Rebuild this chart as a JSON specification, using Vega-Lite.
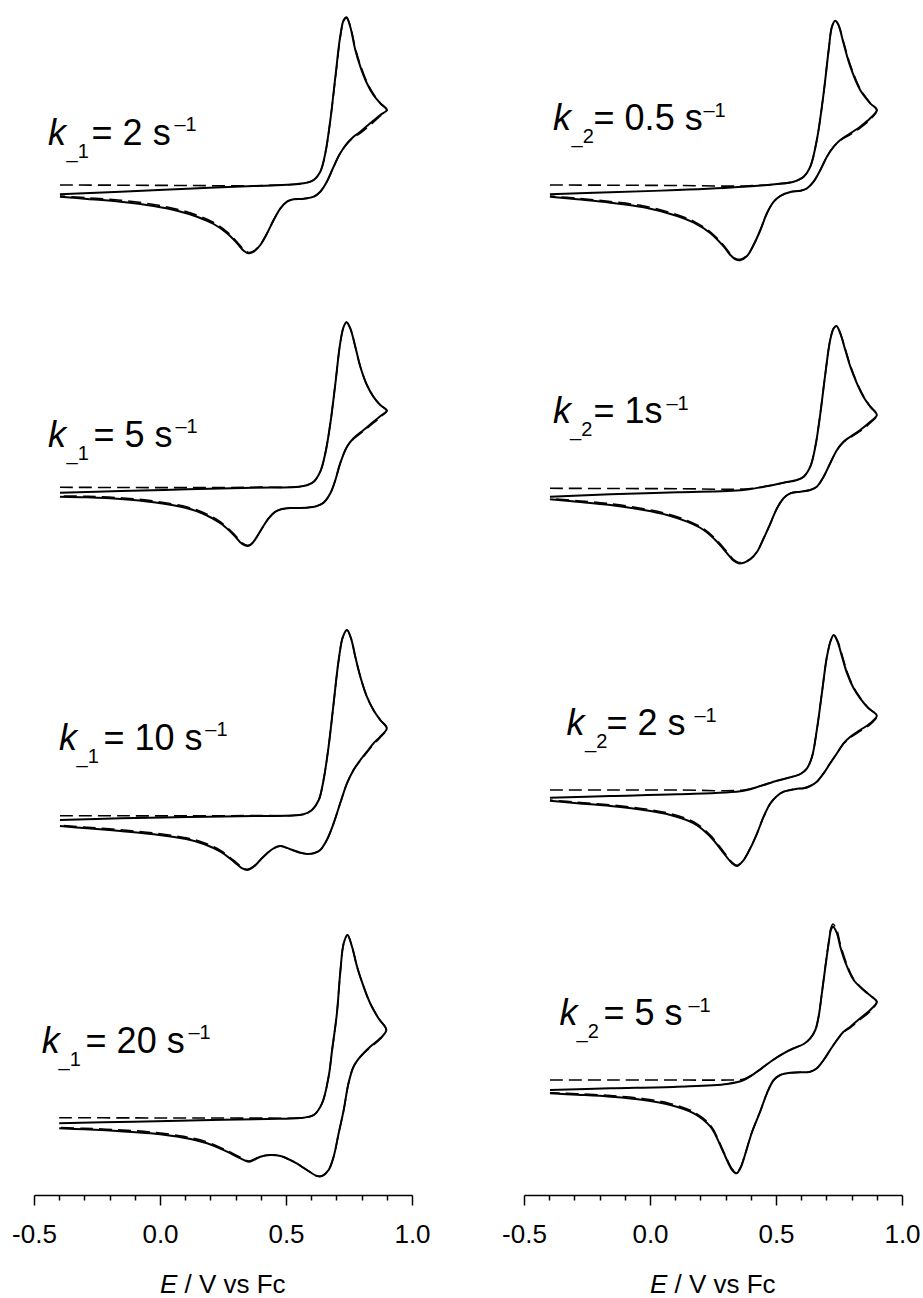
{
"$schema": "https://vega.github.io/schema/vega-lite/v6.json",
"padding": {"left": 11, "top": 0, "right": 5, "bottom": 0},
"background": "white",
"spacing": 112,
"bounds": "flush",
"config": {"view": {"stroke": null}, "font": "Liberation Sans"},
"datasets": {
"cv": [
{"p":"L1","i":0,"E":-0.397,"s":10.007,"d":10.1},{"p":"L1","i":1,"E":-0.157,"s":10.033,"d":10.098},{"p":"L1","i":2,"E":0.108,"s":10.063,"d":10.095},{"p":"L1","i":3,"E":0.372,"s":10.09,"d":10.093},{"p":"L1","i":4,"E":0.57,"s":10.117,"d":10.117},{"p":"L1","i":5,"E":0.61,"s":10.15,"d":10.15},{"p":"L1","i":6,"E":0.636,"s":10.233,"d":10.233},{"p":"L1","i":7,"E":0.656,"s":10.417,"d":10.417},{"p":"L1","i":8,"E":0.676,"s":10.75,"d":10.75},{"p":"L1","i":9,"E":0.696,"s":11.183,"d":11.17},{"p":"L1","i":10,"E":0.715,"s":11.583,"d":11.57},{"p":"L1","i":11,"E":0.729,"s":11.75,"d":11.74},{"p":"L1","i":12,"E":0.74,"s":11.777,"d":11.77},{"p":"L1","i":13,"E":0.755,"s":11.683,"d":11.69},{"p":"L1","i":14,"E":0.775,"s":11.45,"d":11.47},{"p":"L1","i":15,"E":0.795,"s":11.283,"d":11.3},{"p":"L1","i":16,"E":0.821,"s":11.117,"d":11.13},{"p":"L1","i":17,"E":0.847,"s":11.0,"d":11.01},{"p":"L1","i":18,"E":0.874,"s":10.917,"d":10.92},{"p":"L1","i":19,"E":0.9,"s":10.85,"d":10.85},{"p":"L1","i":20,"E":0.874,"s":10.8,"d":10.79},{"p":"L1","i":21,"E":0.834,"s":10.717,"d":10.7},{"p":"L1","i":22,"E":0.795,"s":10.633,"d":10.62},{"p":"L1","i":23,"E":0.768,"s":10.583,"d":10.575},{"p":"L1","i":24,"E":0.742,"s":10.517,"d":10.51},{"p":"L1","i":25,"E":0.715,"s":10.417,"d":10.417},{"p":"L1","i":26,"E":0.689,"s":10.283,"d":10.283},{"p":"L1","i":27,"E":0.662,"s":10.133,"d":10.133},{"p":"L1","i":28,"E":0.636,"s":10.033,"d":10.033},{"p":"L1","i":29,"E":0.61,"s":9.983,"d":9.983},{"p":"L1","i":30,"E":0.57,"s":9.963,"d":9.963},{"p":"L1","i":31,"E":0.53,"s":9.957,"d":9.957},{"p":"L1","i":32,"E":0.504,"s":9.933,"d":9.933},{"p":"L1","i":33,"E":0.478,"s":9.867,"d":9.867},{"p":"L1","i":34,"E":0.451,"s":9.75,"d":9.75},{"p":"L1","i":35,"E":0.425,"s":9.617,"d":9.617},{"p":"L1","i":36,"E":0.398,"s":9.5,"d":9.505},{"p":"L1","i":37,"E":0.372,"s":9.433,"d":9.44},{"p":"L1","i":38,"E":0.352,"s":9.417,"d":9.425},{"p":"L1","i":39,"E":0.332,"s":9.443,"d":9.455},{"p":"L1","i":40,"E":0.306,"s":9.517,"d":9.53},{"p":"L1","i":41,"E":0.266,"s":9.617,"d":9.632},{"p":"L1","i":42,"E":0.213,"s":9.71,"d":9.725},{"p":"L1","i":43,"E":0.147,"s":9.783,"d":9.798},{"p":"L1","i":44,"E":0.068,"s":9.843,"d":9.858},{"p":"L1","i":45,"E":-0.025,"s":9.89,"d":9.905},{"p":"L1","i":46,"E":-0.157,"s":9.933,"d":9.948},{"p":"L1","i":47,"E":-0.289,"s":9.96,"d":9.972},{"p":"L1","i":48,"E":-0.397,"s":9.983,"d":9.99},
{"p":"L2","i":0,"E":-0.397,"s":7.023,"d":7.077},{"p":"L2","i":1,"E":-0.157,"s":7.04,"d":7.075},{"p":"L2","i":2,"E":0.108,"s":7.057,"d":7.074},{"p":"L2","i":3,"E":0.372,"s":7.073,"d":7.078},{"p":"L2","i":4,"E":0.57,"s":7.09,"d":7.09},{"p":"L2","i":5,"E":0.61,"s":7.133,"d":7.133},{"p":"L2","i":6,"E":0.636,"s":7.233,"d":7.233},{"p":"L2","i":7,"E":0.656,"s":7.417,"d":7.417},{"p":"L2","i":8,"E":0.676,"s":7.717,"d":7.717},{"p":"L2","i":9,"E":0.696,"s":8.117,"d":8.117},{"p":"L2","i":10,"E":0.715,"s":8.517,"d":8.517},{"p":"L2","i":11,"E":0.729,"s":8.683,"d":8.683},{"p":"L2","i":12,"E":0.74,"s":8.727,"d":8.727},{"p":"L2","i":13,"E":0.755,"s":8.667,"d":8.667},{"p":"L2","i":14,"E":0.775,"s":8.483,"d":8.483},{"p":"L2","i":15,"E":0.795,"s":8.283,"d":8.283},{"p":"L2","i":16,"E":0.821,"s":8.1,"d":8.1},{"p":"L2","i":17,"E":0.847,"s":7.983,"d":7.983},{"p":"L2","i":18,"E":0.874,"s":7.9,"d":7.9},{"p":"L2","i":19,"E":0.9,"s":7.843,"d":7.843},{"p":"L2","i":20,"E":0.88,"s":7.8,"d":7.79},{"p":"L2","i":21,"E":0.847,"s":7.733,"d":7.72},{"p":"L2","i":22,"E":0.808,"s":7.65,"d":7.64},{"p":"L2","i":23,"E":0.768,"s":7.567,"d":7.56},{"p":"L2","i":24,"E":0.742,"s":7.483,"d":7.483},{"p":"L2","i":25,"E":0.715,"s":7.317,"d":7.317},{"p":"L2","i":26,"E":0.696,"s":7.15,"d":7.15},{"p":"L2","i":27,"E":0.676,"s":7.017,"d":7.017},{"p":"L2","i":28,"E":0.649,"s":6.923,"d":6.923},{"p":"L2","i":29,"E":0.623,"s":6.89,"d":6.89},{"p":"L2","i":30,"E":0.597,"s":6.877,"d":6.877},{"p":"L2","i":31,"E":0.557,"s":6.87,"d":6.87},{"p":"L2","i":32,"E":0.517,"s":6.87,"d":6.87},{"p":"L2","i":33,"E":0.484,"s":6.86,"d":6.86},{"p":"L2","i":34,"E":0.458,"s":6.833,"d":6.833},{"p":"L2","i":35,"E":0.431,"s":6.767,"d":6.767},{"p":"L2","i":36,"E":0.405,"s":6.667,"d":6.667},{"p":"L2","i":37,"E":0.378,"s":6.557,"d":6.56},{"p":"L2","i":38,"E":0.359,"s":6.5,"d":6.505},{"p":"L2","i":39,"E":0.346,"s":6.49,"d":6.497},{"p":"L2","i":40,"E":0.326,"s":6.51,"d":6.52},{"p":"L2","i":41,"E":0.293,"s":6.6,"d":6.612},{"p":"L2","i":42,"E":0.24,"s":6.717,"d":6.73},{"p":"L2","i":43,"E":0.174,"s":6.81,"d":6.823},{"p":"L2","i":44,"E":0.108,"s":6.867,"d":6.88},{"p":"L2","i":45,"E":-0.025,"s":6.927,"d":6.94},{"p":"L2","i":46,"E":-0.157,"s":6.96,"d":6.972},{"p":"L2","i":47,"E":-0.289,"s":6.977,"d":6.987},{"p":"L2","i":48,"E":-0.397,"s":6.983,"d":6.99},
{"p":"L3","i":0,"E":-0.397,"s":3.75,"d":3.793},{"p":"L3","i":1,"E":-0.157,"s":3.767,"d":3.792},{"p":"L3","i":2,"E":0.108,"s":3.78,"d":3.791},{"p":"L3","i":3,"E":0.372,"s":3.79,"d":3.795},{"p":"L3","i":4,"E":0.57,"s":3.807,"d":3.807},{"p":"L3","i":5,"E":0.603,"s":3.85,"d":3.85},{"p":"L3","i":6,"E":0.63,"s":3.95,"d":3.95},{"p":"L3","i":7,"E":0.649,"s":4.15,"d":4.15},{"p":"L3","i":8,"E":0.669,"s":4.483,"d":4.483},{"p":"L3","i":9,"E":0.689,"s":4.917,"d":4.917},{"p":"L3","i":10,"E":0.709,"s":5.35,"d":5.35},{"p":"L3","i":11,"E":0.726,"s":5.583,"d":5.583},{"p":"L3","i":12,"E":0.742,"s":5.65,"d":5.65},{"p":"L3","i":13,"E":0.758,"s":5.567,"d":5.567},{"p":"L3","i":14,"E":0.775,"s":5.383,"d":5.383},{"p":"L3","i":15,"E":0.795,"s":5.183,"d":5.183},{"p":"L3","i":16,"E":0.821,"s":4.983,"d":4.983},{"p":"L3","i":17,"E":0.847,"s":4.85,"d":4.85},{"p":"L3","i":18,"E":0.874,"s":4.75,"d":4.75},{"p":"L3","i":19,"E":0.9,"s":4.667,"d":4.667},{"p":"L3","i":20,"E":0.874,"s":4.583,"d":4.575},{"p":"L3","i":21,"E":0.847,"s":4.517,"d":4.505},{"p":"L3","i":22,"E":0.821,"s":4.433,"d":4.425},{"p":"L3","i":23,"E":0.795,"s":4.35,"d":4.345},{"p":"L3","i":24,"E":0.768,"s":4.25,"d":4.25},{"p":"L3","i":25,"E":0.742,"s":4.117,"d":4.117},{"p":"L3","i":26,"E":0.715,"s":3.917,"d":3.917},{"p":"L3","i":27,"E":0.689,"s":3.717,"d":3.717},{"p":"L3","i":28,"E":0.662,"s":3.55,"d":3.55},{"p":"L3","i":29,"E":0.636,"s":3.45,"d":3.45},{"p":"L3","i":30,"E":0.61,"s":3.417,"d":3.417},{"p":"L3","i":31,"E":0.583,"s":3.41,"d":3.41},{"p":"L3","i":32,"E":0.557,"s":3.423,"d":3.423},{"p":"L3","i":33,"E":0.517,"s":3.457,"d":3.457},{"p":"L3","i":34,"E":0.478,"s":3.49,"d":3.49},{"p":"L3","i":35,"E":0.451,"s":3.467,"d":3.467},{"p":"L3","i":36,"E":0.425,"s":3.417,"d":3.417},{"p":"L3","i":37,"E":0.398,"s":3.35,"d":3.353},{"p":"L3","i":38,"E":0.372,"s":3.283,"d":3.288},{"p":"L3","i":39,"E":0.346,"s":3.25,"d":3.257},{"p":"L3","i":40,"E":0.326,"s":3.267,"d":3.277},{"p":"L3","i":41,"E":0.293,"s":3.333,"d":3.345},{"p":"L3","i":42,"E":0.24,"s":3.433,"d":3.446},{"p":"L3","i":43,"E":0.174,"s":3.51,"d":3.523},{"p":"L3","i":44,"E":0.108,"s":3.557,"d":3.57},{"p":"L3","i":45,"E":-0.025,"s":3.607,"d":3.62},{"p":"L3","i":46,"E":-0.157,"s":3.64,"d":3.652},{"p":"L3","i":47,"E":-0.289,"s":3.667,"d":3.677},{"p":"L3","i":48,"E":-0.397,"s":3.69,"d":3.697},
{"p":"L4","i":0,"E":-0.4,"s":0.717,"d":0.773},{"p":"L4","i":1,"E":-0.104,"s":0.733,"d":0.771},{"p":"L4","i":2,"E":0.161,"s":0.747,"d":0.77},{"p":"L4","i":3,"E":0.425,"s":0.76,"d":0.769},{"p":"L4","i":4,"E":0.557,"s":0.77,"d":0.772},{"p":"L4","i":5,"E":0.61,"s":0.8,"d":0.8},{"p":"L4","i":6,"E":0.643,"s":0.917,"d":0.917},{"p":"L4","i":7,"E":0.669,"s":1.183,"d":1.183},{"p":"L4","i":8,"E":0.683,"s":1.45,"d":1.45},{"p":"L4","i":9,"E":0.702,"s":1.817,"d":1.817},{"p":"L4","i":10,"E":0.715,"s":2.217,"d":2.217},{"p":"L4","i":11,"E":0.729,"s":2.517,"d":2.517},{"p":"L4","i":12,"E":0.744,"s":2.6,"d":2.6},{"p":"L4","i":13,"E":0.762,"s":2.483,"d":2.483},{"p":"L4","i":14,"E":0.782,"s":2.283,"d":2.283},{"p":"L4","i":15,"E":0.808,"s":2.083,"d":2.083},{"p":"L4","i":16,"E":0.834,"s":1.917,"d":1.917},{"p":"L4","i":17,"E":0.867,"s":1.767,"d":1.767},{"p":"L4","i":18,"E":0.898,"s":1.65,"d":1.65},{"p":"L4","i":19,"E":0.874,"s":1.567,"d":1.56},{"p":"L4","i":20,"E":0.834,"s":1.483,"d":1.475},{"p":"L4","i":21,"E":0.795,"s":1.383,"d":1.38},{"p":"L4","i":22,"E":0.768,"s":1.283,"d":1.283},{"p":"L4","i":23,"E":0.748,"s":1.117,"d":1.117},{"p":"L4","i":24,"E":0.729,"s":0.85,"d":0.85},{"p":"L4","i":25,"E":0.709,"s":0.617,"d":0.617},{"p":"L4","i":26,"E":0.689,"s":0.383,"d":0.383},{"p":"L4","i":27,"E":0.669,"s":0.25,"d":0.25},{"p":"L4","i":28,"E":0.643,"s":0.19,"d":0.19},{"p":"L4","i":29,"E":0.623,"s":0.19,"d":0.19},{"p":"L4","i":30,"E":0.583,"s":0.25,"d":0.25},{"p":"L4","i":31,"E":0.53,"s":0.333,"d":0.333},{"p":"L4","i":32,"E":0.478,"s":0.39,"d":0.39},{"p":"L4","i":33,"E":0.438,"s":0.4,"d":0.4},{"p":"L4","i":34,"E":0.398,"s":0.383,"d":0.385},{"p":"L4","i":35,"E":0.372,"s":0.35,"d":0.355},{"p":"L4","i":36,"E":0.352,"s":0.333,"d":0.34},{"p":"L4","i":37,"E":0.319,"s":0.367,"d":0.377},{"p":"L4","i":38,"E":0.266,"s":0.433,"d":0.445},{"p":"L4","i":39,"E":0.187,"s":0.517,"d":0.53},{"p":"L4","i":40,"E":0.094,"s":0.573,"d":0.586},{"p":"L4","i":41,"E":-0.038,"s":0.617,"d":0.63},{"p":"L4","i":42,"E":-0.17,"s":0.64,"d":0.652},{"p":"L4","i":43,"E":-0.302,"s":0.657,"d":0.667},{"p":"L4","i":44,"E":-0.4,"s":0.667,"d":0.674},
{"p":"R1","i":0,"E":-0.397,"s":10.007,"d":10.1},{"p":"R1","i":1,"E":-0.157,"s":10.027,"d":10.098},{"p":"R1","i":2,"E":0.108,"s":10.05,"d":10.095},{"p":"R1","i":3,"E":0.372,"s":10.083,"d":10.09},{"p":"R1","i":4,"E":0.504,"s":10.11,"d":10.11},{"p":"R1","i":5,"E":0.57,"s":10.133,"d":10.133},{"p":"R1","i":6,"E":0.61,"s":10.183,"d":10.183},{"p":"R1","i":7,"E":0.636,"s":10.283,"d":10.283},{"p":"R1","i":8,"E":0.662,"s":10.55,"d":10.55},{"p":"R1","i":9,"E":0.689,"s":11.017,"d":11.017},{"p":"R1","i":10,"E":0.709,"s":11.45,"d":11.45},{"p":"R1","i":11,"E":0.722,"s":11.683,"d":11.683},{"p":"R1","i":12,"E":0.735,"s":11.743,"d":11.743},{"p":"R1","i":13,"E":0.748,"s":11.7,"d":11.7},{"p":"R1","i":14,"E":0.768,"s":11.517,"d":11.53},{"p":"R1","i":15,"E":0.795,"s":11.283,"d":11.3},{"p":"R1","i":16,"E":0.834,"s":11.05,"d":11.06},{"p":"R1","i":17,"E":0.874,"s":10.917,"d":10.92},{"p":"R1","i":18,"E":0.9,"s":10.85,"d":10.85},{"p":"R1","i":19,"E":0.874,"s":10.767,"d":10.755},{"p":"R1","i":20,"E":0.834,"s":10.683,"d":10.67},{"p":"R1","i":21,"E":0.795,"s":10.617,"d":10.605},{"p":"R1","i":22,"E":0.755,"s":10.55,"d":10.545},{"p":"R1","i":23,"E":0.729,"s":10.483,"d":10.483},{"p":"R1","i":24,"E":0.702,"s":10.383,"d":10.383},{"p":"R1","i":25,"E":0.676,"s":10.25,"d":10.25},{"p":"R1","i":26,"E":0.649,"s":10.133,"d":10.133},{"p":"R1","i":27,"E":0.623,"s":10.067,"d":10.067},{"p":"R1","i":28,"E":0.597,"s":10.043,"d":10.043},{"p":"R1","i":29,"E":0.557,"s":10.03,"d":10.03},{"p":"R1","i":30,"E":0.517,"s":9.99,"d":9.99},{"p":"R1","i":31,"E":0.491,"s":9.933,"d":9.933},{"p":"R1","i":32,"E":0.464,"s":9.817,"d":9.817},{"p":"R1","i":33,"E":0.438,"s":9.65,"d":9.65},{"p":"R1","i":34,"E":0.411,"s":9.5,"d":9.5},{"p":"R1","i":35,"E":0.385,"s":9.39,"d":9.395},{"p":"R1","i":36,"E":0.359,"s":9.35,"d":9.357},{"p":"R1","i":37,"E":0.339,"s":9.357,"d":9.366},{"p":"R1","i":38,"E":0.319,"s":9.4,"d":9.41},{"p":"R1","i":39,"E":0.293,"s":9.483,"d":9.495},{"p":"R1","i":40,"E":0.24,"s":9.617,"d":9.63},{"p":"R1","i":41,"E":0.174,"s":9.723,"d":9.736},{"p":"R1","i":42,"E":0.108,"s":9.79,"d":9.803},{"p":"R1","i":43,"E":-0.025,"s":9.877,"d":9.89},{"p":"R1","i":44,"E":-0.157,"s":9.923,"d":9.935},{"p":"R1","i":45,"E":-0.289,"s":9.957,"d":9.967},{"p":"R1","i":46,"E":-0.397,"s":9.983,"d":9.99},
{"p":"R2","i":0,"E":-0.397,"s":6.983,"d":7.067},{"p":"R2","i":1,"E":-0.157,"s":7.007,"d":7.065},{"p":"R2","i":2,"E":0.108,"s":7.027,"d":7.063},{"p":"R2","i":3,"E":0.372,"s":7.05,"d":7.06},{"p":"R2","i":4,"E":0.451,"s":7.083,"d":7.083},{"p":"R2","i":5,"E":0.53,"s":7.123,"d":7.123},{"p":"R2","i":6,"E":0.583,"s":7.15,"d":7.15},{"p":"R2","i":7,"E":0.61,"s":7.183,"d":7.183},{"p":"R2","i":8,"E":0.636,"s":7.283,"d":7.283},{"p":"R2","i":9,"E":0.656,"s":7.483,"d":7.483},{"p":"R2","i":10,"E":0.676,"s":7.817,"d":7.817},{"p":"R2","i":11,"E":0.696,"s":8.217,"d":8.217},{"p":"R2","i":12,"E":0.715,"s":8.55,"d":8.55},{"p":"R2","i":13,"E":0.729,"s":8.667,"d":8.667},{"p":"R2","i":14,"E":0.74,"s":8.69,"d":8.69},{"p":"R2","i":15,"E":0.755,"s":8.617,"d":8.617},{"p":"R2","i":16,"E":0.775,"s":8.45,"d":8.46},{"p":"R2","i":17,"E":0.795,"s":8.283,"d":8.295},{"p":"R2","i":18,"E":0.821,"s":8.117,"d":8.127},{"p":"R2","i":19,"E":0.847,"s":7.983,"d":7.99},{"p":"R2","i":20,"E":0.874,"s":7.883,"d":7.887},{"p":"R2","i":21,"E":0.9,"s":7.8,"d":7.8},{"p":"R2","i":22,"E":0.874,"s":7.733,"d":7.72},{"p":"R2","i":23,"E":0.834,"s":7.65,"d":7.638},{"p":"R2","i":24,"E":0.795,"s":7.583,"d":7.575},{"p":"R2","i":25,"E":0.768,"s":7.533,"d":7.528},{"p":"R2","i":26,"E":0.742,"s":7.45,"d":7.45},{"p":"R2","i":27,"E":0.715,"s":7.317,"d":7.317},{"p":"R2","i":28,"E":0.689,"s":7.183,"d":7.183},{"p":"R2","i":29,"E":0.662,"s":7.083,"d":7.083},{"p":"R2","i":30,"E":0.636,"s":7.05,"d":7.05},{"p":"R2","i":31,"E":0.597,"s":7.033,"d":7.033},{"p":"R2","i":32,"E":0.557,"s":7.017,"d":7.017},{"p":"R2","i":33,"E":0.53,"s":6.967,"d":6.967},{"p":"R2","i":34,"E":0.504,"s":6.867,"d":6.867},{"p":"R2","i":35,"E":0.478,"s":6.717,"d":6.717},{"p":"R2","i":36,"E":0.451,"s":6.567,"d":6.567},{"p":"R2","i":37,"E":0.425,"s":6.433,"d":6.433},{"p":"R2","i":38,"E":0.398,"s":6.357,"d":6.36},{"p":"R2","i":39,"E":0.372,"s":6.323,"d":6.33},{"p":"R2","i":40,"E":0.352,"s":6.317,"d":6.325},{"p":"R2","i":41,"E":0.332,"s":6.343,"d":6.353},{"p":"R2","i":42,"E":0.306,"s":6.417,"d":6.43},{"p":"R2","i":43,"E":0.266,"s":6.533,"d":6.546},{"p":"R2","i":44,"E":0.213,"s":6.65,"d":6.663},{"p":"R2","i":45,"E":0.147,"s":6.733,"d":6.746},{"p":"R2","i":46,"E":0.068,"s":6.8,"d":6.813},{"p":"R2","i":47,"E":-0.025,"s":6.85,"d":6.863},{"p":"R2","i":48,"E":-0.157,"s":6.9,"d":6.912},{"p":"R2","i":49,"E":-0.289,"s":6.933,"d":6.943},{"p":"R2","i":50,"E":-0.397,"s":6.957,"d":6.963},
{"p":"R3","i":0,"E":-0.397,"s":3.973,"d":4.05},{"p":"R3","i":1,"E":-0.157,"s":3.99,"d":4.05},{"p":"R3","i":2,"E":0.108,"s":4.007,"d":4.05},{"p":"R3","i":3,"E":0.372,"s":4.043,"d":4.05},{"p":"R3","i":4,"E":0.438,"s":4.09,"d":4.09},{"p":"R3","i":5,"E":0.504,"s":4.143,"d":4.143},{"p":"R3","i":6,"E":0.557,"s":4.177,"d":4.177},{"p":"R3","i":7,"E":0.597,"s":4.21,"d":4.21},{"p":"R3","i":8,"E":0.623,"s":4.267,"d":4.267},{"p":"R3","i":9,"E":0.643,"s":4.383,"d":4.383},{"p":"R3","i":10,"E":0.662,"s":4.65,"d":4.65},{"p":"R3","i":11,"E":0.682,"s":5.017,"d":5.017},{"p":"R3","i":12,"E":0.702,"s":5.383,"d":5.383},{"p":"R3","i":13,"E":0.718,"s":5.55,"d":5.55},{"p":"R3","i":14,"E":0.729,"s":5.6,"d":5.6},{"p":"R3","i":15,"E":0.744,"s":5.533,"d":5.545},{"p":"R3","i":16,"E":0.762,"s":5.383,"d":5.4},{"p":"R3","i":17,"E":0.782,"s":5.217,"d":5.232},{"p":"R3","i":18,"E":0.808,"s":5.067,"d":5.077},{"p":"R3","i":19,"E":0.834,"s":4.967,"d":4.973},{"p":"R3","i":20,"E":0.867,"s":4.867,"d":4.87},{"p":"R3","i":21,"E":0.9,"s":4.793,"d":4.793},{"p":"R3","i":22,"E":0.874,"s":4.717,"d":4.705},{"p":"R3","i":23,"E":0.834,"s":4.65,"d":4.638},{"p":"R3","i":24,"E":0.795,"s":4.583,"d":4.575},{"p":"R3","i":25,"E":0.768,"s":4.517,"d":4.512},{"p":"R3","i":26,"E":0.742,"s":4.417,"d":4.417},{"p":"R3","i":27,"E":0.715,"s":4.317,"d":4.317},{"p":"R3","i":28,"E":0.689,"s":4.217,"d":4.217},{"p":"R3","i":29,"E":0.662,"s":4.133,"d":4.133},{"p":"R3","i":30,"E":0.636,"s":4.09,"d":4.09},{"p":"R3","i":31,"E":0.61,"s":4.067,"d":4.067},{"p":"R3","i":32,"E":0.583,"s":4.063,"d":4.063},{"p":"R3","i":33,"E":0.557,"s":4.05,"d":4.05},{"p":"R3","i":34,"E":0.53,"s":4.033,"d":4.033},{"p":"R3","i":35,"E":0.504,"s":3.99,"d":3.99},{"p":"R3","i":36,"E":0.478,"s":3.917,"d":3.917},{"p":"R3","i":37,"E":0.451,"s":3.783,"d":3.783},{"p":"R3","i":38,"E":0.425,"s":3.617,"d":3.617},{"p":"R3","i":39,"E":0.398,"s":3.467,"d":3.47},{"p":"R3","i":40,"E":0.372,"s":3.35,"d":3.356},{"p":"R3","i":41,"E":0.346,"s":3.29,"d":3.298},{"p":"R3","i":42,"E":0.326,"s":3.317,"d":3.327},{"p":"R3","i":43,"E":0.293,"s":3.417,"d":3.43},{"p":"R3","i":44,"E":0.24,"s":3.583,"d":3.596},{"p":"R3","i":45,"E":0.174,"s":3.717,"d":3.73},{"p":"R3","i":46,"E":0.081,"s":3.8,"d":3.813},{"p":"R3","i":47,"E":-0.025,"s":3.85,"d":3.863},{"p":"R3","i":48,"E":-0.157,"s":3.89,"d":3.902},{"p":"R3","i":49,"E":-0.289,"s":3.917,"d":3.927},{"p":"R3","i":50,"E":-0.397,"s":3.943,"d":3.95},
{"p":"R4","i":0,"E":-0.397,"s":1.05,"d":1.15},{"p":"R4","i":1,"E":-0.157,"s":1.067,"d":1.15},{"p":"R4","i":2,"E":0.108,"s":1.083,"d":1.15},{"p":"R4","i":3,"E":0.306,"s":1.11,"d":1.15},{"p":"R4","i":4,"E":0.372,"s":1.15,"d":1.16},{"p":"R4","i":5,"E":0.425,"s":1.233,"d":1.233},{"p":"R4","i":6,"E":0.478,"s":1.333,"d":1.333},{"p":"R4","i":7,"E":0.53,"s":1.417,"d":1.417},{"p":"R4","i":8,"E":0.57,"s":1.467,"d":1.467},{"p":"R4","i":9,"E":0.61,"s":1.51,"d":1.51},{"p":"R4","i":10,"E":0.636,"s":1.567,"d":1.567},{"p":"R4","i":11,"E":0.656,"s":1.65,"d":1.65},{"p":"R4","i":12,"E":0.669,"s":1.783,"d":1.783},{"p":"R4","i":13,"E":0.682,"s":2.017,"d":2.017},{"p":"R4","i":14,"E":0.696,"s":2.283,"d":2.29},{"p":"R4","i":15,"E":0.709,"s":2.517,"d":2.53},{"p":"R4","i":16,"E":0.718,"s":2.65,"d":2.67},{"p":"R4","i":17,"E":0.726,"s":2.683,"d":2.71},{"p":"R4","i":18,"E":0.742,"s":2.617,"d":2.645},{"p":"R4","i":19,"E":0.755,"s":2.483,"d":2.51},{"p":"R4","i":20,"E":0.782,"s":2.283,"d":2.3},{"p":"R4","i":21,"E":0.808,"s":2.15,"d":2.16},{"p":"R4","i":22,"E":0.847,"s":2.05,"d":2.055},{"p":"R4","i":23,"E":0.88,"s":1.983,"d":1.985},{"p":"R4","i":24,"E":0.9,"s":1.933,"d":1.933},{"p":"R4","i":25,"E":0.874,"s":1.85,"d":1.838},{"p":"R4","i":26,"E":0.834,"s":1.767,"d":1.755},{"p":"R4","i":27,"E":0.795,"s":1.683,"d":1.675},{"p":"R4","i":28,"E":0.768,"s":1.633,"d":1.628},{"p":"R4","i":29,"E":0.742,"s":1.55,"d":1.55},{"p":"R4","i":30,"E":0.715,"s":1.45,"d":1.45},{"p":"R4","i":31,"E":0.689,"s":1.35,"d":1.35},{"p":"R4","i":32,"E":0.662,"s":1.267,"d":1.267},{"p":"R4","i":33,"E":0.636,"s":1.233,"d":1.233},{"p":"R4","i":34,"E":0.597,"s":1.227,"d":1.227},{"p":"R4","i":35,"E":0.557,"s":1.223,"d":1.223},{"p":"R4","i":36,"E":0.517,"s":1.2,"d":1.2},{"p":"R4","i":37,"E":0.491,"s":1.15,"d":1.15},{"p":"R4","i":38,"E":0.464,"s":1.017,"d":1.017},{"p":"R4","i":39,"E":0.438,"s":0.84,"d":0.84},{"p":"R4","i":40,"E":0.405,"s":0.63,"d":0.632},{"p":"R4","i":41,"E":0.378,"s":0.41,"d":0.414},{"p":"R4","i":42,"E":0.359,"s":0.27,"d":0.276},{"p":"R4","i":43,"E":0.343,"s":0.217,"d":0.225},{"p":"R4","i":44,"E":0.326,"s":0.25,"d":0.26},{"p":"R4","i":45,"E":0.293,"s":0.417,"d":0.43},{"p":"R4","i":46,"E":0.24,"s":0.683,"d":0.696},{"p":"R4","i":47,"E":0.174,"s":0.817,"d":0.83},{"p":"R4","i":48,"E":0.081,"s":0.9,"d":0.913},{"p":"R4","i":49,"E":-0.025,"s":0.95,"d":0.963},{"p":"R4","i":50,"E":-0.157,"s":0.983,"d":0.995},{"p":"R4","i":51,"E":-0.289,"s":1.003,"d":1.013},{"p":"R4","i":52,"E":-0.397,"s":1.017,"d":1.023}
],
"lab": [
{"c":"L","part":"k","txt":"k","E":-0.444,"I":10.5},{"c":"L","part":"sub","txt":"_1","E":-0.371,"I":10.37},{"c":"L","part":"main","txt":"= 2 s","E":-0.2715,"I":10.5},{"c":"L","part":"sup","txt":"–1","E":0.0575,"I":10.64},
{"c":"L","part":"k","txt":"k","E":-0.444,"I":7.483},{"c":"L","part":"sub","txt":"_1","E":-0.371,"I":7.353},{"c":"L","part":"main","txt":"= 5 s","E":-0.2636,"I":7.483},{"c":"L","part":"sup","txt":"–1","E":0.0614,"I":7.623},
{"c":"L","part":"k","txt":"k","E":-0.4003,"I":4.45},{"c":"L","part":"sub","txt":"_1","E":-0.331,"I":4.32},{"c":"L","part":"main","txt":"= 10 s","E":-0.224,"I":4.45},{"c":"L","part":"sup","txt":"–1","E":0.18,"I":4.59},
{"c":"L","part":"k","txt":"k","E":-0.4697,"I":1.42},{"c":"L","part":"sub","txt":"_1","E":-0.4023,"I":1.29},{"c":"L","part":"main","txt":"= 20 s","E":-0.2953,"I":1.42},{"c":"L","part":"sup","txt":"–1","E":0.113,"I":1.56},
{"c":"R","part":"k","txt":"k","E":-0.3845,"I":10.65},{"c":"R","part":"sub","txt":"_2","E":-0.3111,"I":10.52},{"c":"R","part":"main","txt":"= 0.5 s","E":-0.2239,"I":10.65},{"c":"R","part":"sup","txt":"–1","E":0.212,"I":10.78},
{"c":"R","part":"k","txt":"k","E":-0.3845,"I":7.723},{"c":"R","part":"sub","txt":"_2","E":-0.3171,"I":7.593},{"c":"R","part":"main","txt":"= 1s","E":-0.2239,"I":7.723},{"c":"R","part":"sup","txt":"–1","E":0.0654,"I":7.853},
{"c":"R","part":"k","txt":"k","E":-0.331,"I":4.6},{"c":"R","part":"sub","txt":"_2","E":-0.2576,"I":4.47},{"c":"R","part":"main","txt":"= 2 s","E":-0.1724,"I":4.6},{"c":"R","part":"sup","txt":"–1","E":0.1764,"I":4.73},
{"c":"R","part":"k","txt":"k","E":-0.3587,"I":1.7},{"c":"R","part":"sub","txt":"_2","E":-0.2913,"I":1.57},{"c":"R","part":"main","txt":"= 5 s","E":-0.1843,"I":1.7},{"c":"R","part":"sup","txt":"–1","E":0.1526,"I":1.83},
{"c":"L","part":"tE","txt":"E","E":0.0,"I":-0.975},{"c":"L","part":"tR","txt":"/ V vs Fc","E":0.0971,"I":-0.975},
{"c":"R","part":"tE","txt":"E","E":0.0,"I":-0.975},{"c":"R","part":"tR","txt":"/ V vs Fc","E":0.0971,"I":-0.975}
]
},
"hconcat": [
{
"width": 378, "height": 1195,
"encoding": {"x": {"field": "E", "type": "quantitative", "scale": {"domain": [-0.5, 1.0], "nice": false, "zero": false},
  "axis": {"values": [-0.5,-0.4,-0.3,-0.2,-0.1,0,0.1,0.2,0.3,0.4,0.5,0.6,0.7,0.8,0.9,1.0], "title": null, "grid": false,
    "domainColor": "black", "domainWidth": 1.5, "tickColor": "black", "tickWidth": 1.5,
    "tickSize": {"condition": {"test": "abs(datum.value*2 - round(datum.value*2)) < 0.001", "value": 10}, "value": 5},
    "labelExpr": "abs(datum.value*2 - round(datum.value*2)) < 0.001 ? ((datum.value < 0 ? '-' : '') + format(abs(datum.value), '.1f')) : ''",
    "labelFont": "Liberation Sans", "labelFontSize": 26, "labelColor": "black", "labelBaseline": "alphabetic", "labelPadding": 37, "labelFlush": false, "labelOverlap": false}}},
"layer": [
{"data": {"name": "cv"}, "transform": [{"filter": {"field": "p", "oneOf": ["L1","L2","L3","L4"]}}],
 "mark": {"type": "line", "interpolate": "catmull-rom", "color": "black", "strokeWidth": 2},
 "encoding": {"y": {"field": "s", "type": "quantitative", "scale": {"domain": [0, 11.95], "nice": false, "zero": false}, "axis": null}, "detail": {"field": "p"}, "order": {"field": "i", "type": "quantitative"}}},
{"data": {"name": "cv"}, "transform": [{"filter": {"field": "p", "oneOf": ["L1","L2","L3","L4"]}}],
 "mark": {"type": "line", "interpolate": "catmull-rom", "color": "black", "strokeWidth": 1.6, "strokeDash": [13, 6]},
 "encoding": {"y": {"field": "d", "type": "quantitative", "scale": {"domain": [0, 11.95], "nice": false, "zero": false}, "axis": null}, "detail": {"field": "p"}, "order": {"field": "i", "type": "quantitative"}}},
{"data": {"name": "lab"}, "transform": [{"filter": "datum.c == 'L' && datum.part == 'k'"}],
 "mark": {"type": "text", "align": "left", "baseline": "alphabetic", "font": "Liberation Sans", "fontSize": 36, "fontStyle": "italic", "color": "black"},
 "encoding": {"y": {"field": "I", "type": "quantitative", "scale": {"domain": [0, 11.95]}, "axis": null}, "text": {"field": "txt"}}},
{"data": {"name": "lab"}, "transform": [{"filter": "datum.c == 'L' && (datum.part == 'sub' || datum.part == 'sup')"}],
 "mark": {"type": "text", "align": "left", "baseline": "alphabetic", "font": "Liberation Sans", "fontSize": 20, "color": "black"},
 "encoding": {"y": {"field": "I", "type": "quantitative", "scale": {"domain": [0, 11.95]}, "axis": null}, "text": {"field": "txt"}}},
{"data": {"name": "lab"}, "transform": [{"filter": "datum.c == 'L' && datum.part == 'main'"}],
 "mark": {"type": "text", "align": "left", "baseline": "alphabetic", "font": "Liberation Sans", "fontSize": 36, "color": "black"},
 "encoding": {"y": {"field": "I", "type": "quantitative", "scale": {"domain": [0, 11.95]}, "axis": null}, "text": {"field": "txt"}}},
{"data": {"name": "lab"}, "transform": [{"filter": "datum.c == 'L' && datum.part == 'tE'"}],
 "mark": {"type": "text", "align": "left", "baseline": "alphabetic", "font": "Liberation Sans", "fontSize": 26, "fontStyle": "italic", "color": "black"},
 "encoding": {"y": {"field": "I", "type": "quantitative", "scale": {"domain": [0, 11.95]}, "axis": null}, "text": {"field": "txt"}}},
{"data": {"name": "lab"}, "transform": [{"filter": "datum.c == 'L' && datum.part == 'tR'"}],
 "mark": {"type": "text", "align": "left", "baseline": "alphabetic", "font": "Liberation Sans", "fontSize": 26, "color": "black"},
 "encoding": {"y": {"field": "I", "type": "quantitative", "scale": {"domain": [0, 11.95]}, "axis": null}, "text": {"field": "txt"}}}
]
},
{
"width": 378, "height": 1195,
"encoding": {"x": {"field": "E", "type": "quantitative", "scale": {"domain": [-0.5, 1.0], "nice": false, "zero": false},
  "axis": {"values": [-0.5,-0.4,-0.3,-0.2,-0.1,0,0.1,0.2,0.3,0.4,0.5,0.6,0.7,0.8,0.9,1.0], "title": null, "grid": false,
    "domainColor": "black", "domainWidth": 1.5, "tickColor": "black", "tickWidth": 1.5,
    "tickSize": {"condition": {"test": "abs(datum.value*2 - round(datum.value*2)) < 0.001", "value": 10}, "value": 5},
    "labelExpr": "abs(datum.value*2 - round(datum.value*2)) < 0.001 ? ((datum.value < 0 ? '-' : '') + format(abs(datum.value), '.1f')) : ''",
    "labelFont": "Liberation Sans", "labelFontSize": 26, "labelColor": "black", "labelBaseline": "alphabetic", "labelPadding": 37, "labelFlush": false, "labelOverlap": false}}},
"layer": [
{"data": {"name": "cv"}, "transform": [{"filter": {"field": "p", "oneOf": ["R1","R2","R3","R4"]}}],
 "mark": {"type": "line", "interpolate": "catmull-rom", "color": "black", "strokeWidth": 2},
 "encoding": {"y": {"field": "s", "type": "quantitative", "scale": {"domain": [0, 11.95], "nice": false, "zero": false}, "axis": null}, "detail": {"field": "p"}, "order": {"field": "i", "type": "quantitative"}}},
{"data": {"name": "cv"}, "transform": [{"filter": {"field": "p", "oneOf": ["R1","R2","R3","R4"]}}],
 "mark": {"type": "line", "interpolate": "catmull-rom", "color": "black", "strokeWidth": 1.6, "strokeDash": [13, 6]},
 "encoding": {"y": {"field": "d", "type": "quantitative", "scale": {"domain": [0, 11.95], "nice": false, "zero": false}, "axis": null}, "detail": {"field": "p"}, "order": {"field": "i", "type": "quantitative"}}},
{"data": {"name": "lab"}, "transform": [{"filter": "datum.c == 'R' && datum.part == 'k'"}],
 "mark": {"type": "text", "align": "left", "baseline": "alphabetic", "font": "Liberation Sans", "fontSize": 36, "fontStyle": "italic", "color": "black"},
 "encoding": {"y": {"field": "I", "type": "quantitative", "scale": {"domain": [0, 11.95]}, "axis": null}, "text": {"field": "txt"}}},
{"data": {"name": "lab"}, "transform": [{"filter": "datum.c == 'R' && (datum.part == 'sub' || datum.part == 'sup')"}],
 "mark": {"type": "text", "align": "left", "baseline": "alphabetic", "font": "Liberation Sans", "fontSize": 20, "color": "black"},
 "encoding": {"y": {"field": "I", "type": "quantitative", "scale": {"domain": [0, 11.95]}, "axis": null}, "text": {"field": "txt"}}},
{"data": {"name": "lab"}, "transform": [{"filter": "datum.c == 'R' && datum.part == 'main'"}],
 "mark": {"type": "text", "align": "left", "baseline": "alphabetic", "font": "Liberation Sans", "fontSize": 36, "color": "black"},
 "encoding": {"y": {"field": "I", "type": "quantitative", "scale": {"domain": [0, 11.95]}, "axis": null}, "text": {"field": "txt"}}},
{"data": {"name": "lab"}, "transform": [{"filter": "datum.c == 'R' && datum.part == 'tE'"}],
 "mark": {"type": "text", "align": "left", "baseline": "alphabetic", "font": "Liberation Sans", "fontSize": 26, "fontStyle": "italic", "color": "black"},
 "encoding": {"y": {"field": "I", "type": "quantitative", "scale": {"domain": [0, 11.95]}, "axis": null}, "text": {"field": "txt"}}},
{"data": {"name": "lab"}, "transform": [{"filter": "datum.c == 'R' && datum.part == 'tR'"}],
 "mark": {"type": "text", "align": "left", "baseline": "alphabetic", "font": "Liberation Sans", "fontSize": 26, "color": "black"},
 "encoding": {"y": {"field": "I", "type": "quantitative", "scale": {"domain": [0, 11.95]}, "axis": null}, "text": {"field": "txt"}}}
]
}
]
}
